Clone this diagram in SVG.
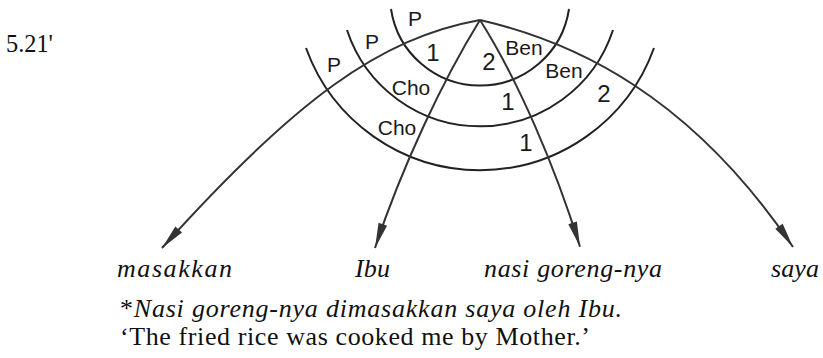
<svg xmlns="http://www.w3.org/2000/svg" width="823" height="358" viewBox="0 0 823 358">
<style>
.arc{fill:none;stroke:#222;stroke-width:2}
.con{fill:none;stroke:#333;stroke-width:2}
.lab{font-family:"Liberation Sans",Arial,Helvetica,sans-serif;font-size:21px;fill:#1a1a1a;text-anchor:middle}
.num{font-family:"Liberation Sans",Arial,Helvetica,sans-serif;font-size:24px;fill:#1a1a1a;text-anchor:middle}
.word{font-family:"Liberation Serif","Times New Roman",serif;font-style:italic;font-size:26px;fill:#111}
.rom{font-family:"Liberation Serif","Times New Roman",serif;font-size:26px;fill:#111}
</style>
<defs>
<marker id="ah" markerUnits="userSpaceOnUse" markerWidth="30" markerHeight="12" viewBox="-27 -6 28 12" refX="0" refY="0" orient="auto">
<path d="M0,0 L-25,-4.5 L-25,4.5 Z" fill="#333"/>
</marker>
</defs>
<rect width="823" height="358" fill="#fff"/>
<text class="rom" x="6" y="52" font-size="24" textLength="47" lengthAdjust="spacingAndGlyphs">5.21'</text>
<g id="arcs">
<path class="arc" d="M391,9 A90,90 0 0 0 569,9"/>
<path class="arc" d="M347,30 A140,140 0 0 0 613,30"/>
<path class="arc" d="M306,48 A185,185 0 0 0 654,48"/>
</g>
<g id="connectors">
<path class="con" marker-end="url(#ah)" d="M480,20 C380,38 295,100 162,248"/>
<path class="con" marker-end="url(#ah)" d="M480,20 C442.8,80 401.4,168 375,248"/>
<path class="con" marker-end="url(#ah)" d="M480,20 C518,80 555.2,166.7 580,246.7"/>
<path class="con" marker-end="url(#ah)" d="M480,20 C575,42 690,95 793,247"/>
</g>
<g id="labels">
<text class="lab" x="415" y="26">P</text>
<text class="lab" x="372" y="49">P</text>
<text class="lab" x="334" y="72">P</text>
<text class="num" x="433" y="61">1</text>
<text class="num" x="489" y="70">2</text>
<text class="lab" x="524" y="55">Ben</text>
<text class="lab" x="411" y="95">Cho</text>
<text class="lab" x="564" y="78">Ben</text>
<text class="num" x="508" y="110">1</text>
<text class="num" x="604" y="102">2</text>
<text class="lab" x="397" y="135">Cho</text>
<text class="num" x="526" y="151">1</text>
</g>
<g id="node-masakkan"><text class="word" x="117" y="277" textLength="115" lengthAdjust="spacing">masakkan</text></g>
<g id="node-ibu"><text class="word" x="355" y="277" textLength="35" lengthAdjust="spacing">Ibu</text></g>
<g id="node-nasi"><text class="word" x="484" y="277" textLength="178" lengthAdjust="spacing">nasi goreng-nya</text></g>
<g id="node-saya"><text class="word" x="771" y="277" textLength="48" lengthAdjust="spacing">saya</text></g>
<g id="caption">
<text class="word" x="120" y="317" textLength="502" lengthAdjust="spacing"><tspan font-style="normal">*</tspan>Nasi goreng-nya dimasakkan saya oleh Ibu.</text>
<text class="rom" x="120" y="345" textLength="470" lengthAdjust="spacing">‘The fried rice was cooked me by Mother.’</text>
</g>
</svg>
